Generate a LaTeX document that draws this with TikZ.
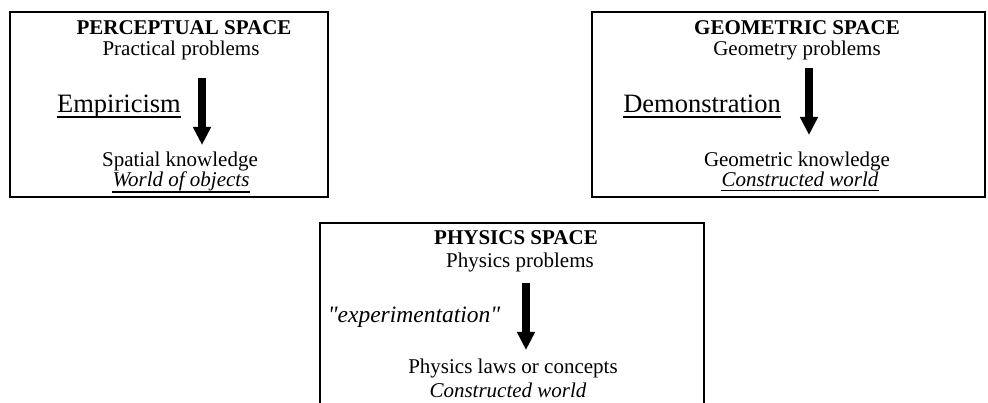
\documentclass[tikz,border=0pt]{standalone}
\usepackage{fontspec}
\setmainfont{Liberation Serif}
\usetikzlibrary{arrows.meta}
\begin{document}
\begin{tikzpicture}[x=1pt,y=-1pt,
  frame/.style={draw=black,line width=1.4pt},
  txt/.style={inner sep=0pt,anchor=base,font=\fontsize{21}{25}\selectfont},
  ttl/.style={txt,font=\fontsize{21}{25}\selectfont\bfseries},
  big/.style={txt,font=\fontsize{26.5}{31}\selectfont},
  bigit/.style={txt,font=\fontsize{23.5}{28}\selectfont\itshape},
  it/.style={txt,font=\fontsize{21}{25}\selectfont\itshape},
  ul/.style={line width=1.2pt},
  flow/.style={line width=8pt,-{Triangle[length=18pt,width=17pt]}}]
\useasboundingbox (0,0) rectangle (988,403);
% frames
\draw[frame] (10,12) rectangle (328,197);
\draw[frame] (592,12) rectangle (985,197);
\draw[frame] (320,403) |- (704,223) -- (704,403);
% box 1
\node[ttl] (t1) at (184,35) {PERCEPTUAL SPACE};
\node[txt] (p1) at (181,56) {Practical problems};
\node[big] (e1) at (119,113) {Empiricism};
\node[txt] (k1) at (180,167) {Spatial knowledge};
\node[it] (w1) at (181,187) {World of objects};
\coordinate (a1s) at (202,78);
\coordinate (a1e) at (202,145);
\draw[flow] (a1s) -- (a1e);
\draw[ul] ([yshift=-4pt]e1.base west) -- ([yshift=-4pt]e1.base east);
\draw[ul] ([yshift=-5pt]w1.base west) -- ([yshift=-5pt]w1.base east);
% box 2
\node[ttl] (t2) at (797,35) {GEOMETRIC SPACE};
\node[txt] (p2) at (797,56) {Geometry problems};
\node[big] (e2) at (702,113) {Demonstration};
\node[txt] (k2) at (797,167) {Geometric knowledge};
\node[it] (w2) at (800,187) {Constructed world};
\coordinate (a2s) at (809,68);
\coordinate (a2e) at (809,135);
\draw[flow] (a2s) -- (a2e);
\draw[ul] ([yshift=-4pt]e2.base west) -- ([yshift=-4pt]e2.base east);
\draw[ul] ([yshift=-3.5pt]w2.base west) -- ([yshift=-3.5pt]w2.base east);
% box 3
\node[ttl] (t3) at (516,245) {PHYSICS SPACE};
\node[txt] (p3) at (520,268) {Physics problems};
\node[bigit] (e3) at (414,323) {\textquotedbl experimentation\textquotedbl};
\node[txt] (k3) at (513,373) {Physics laws or concepts};
\node[it] (w3) at (508,397) {Constructed world};
\coordinate (a3s) at (526,283);
\coordinate (a3e) at (526,350);
\draw[flow] (a3s) -- (a3e);
\end{tikzpicture}
\end{document}
